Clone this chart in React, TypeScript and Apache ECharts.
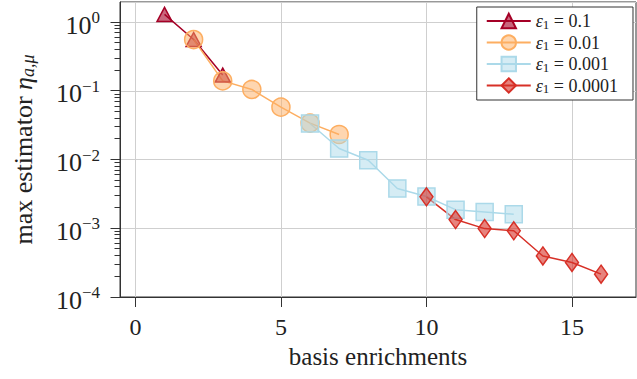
import React, { useEffect, useRef } from "react";
import * as echarts from "echarts";

const X_MIN = -0.53;
const X_MAX = 17.2;
const Y_MIN = 1e-4;
const Y_MAX = 1.97;

const xTicks = [0, 5, 10, 15];
const yMajorTicks = [1e-4, 1e-3, 1e-2, 1e-1, 1];
const minorMultipliers = [2, 3, 4, 5, 6, 7, 8, 9];
const minorDecades = [1e-4, 1e-3, 1e-2, 1e-1];

const eps1X = [1, 2, 3];
const eps1Y = [1.3, 0.56, 0.17];
const eps2X = [2, 3, 4, 5, 6, 7];
const eps2Y = [0.56, 0.14, 0.105, 0.058, 0.034, 0.0232];
const eps3X = [6, 7, 8, 9, 10, 11, 12, 13];
const eps3Y = [0.0335, 0.0145, 0.0098, 0.0038, 0.0029, 0.00187, 0.00173, 0.0016];
const eps4X = [10, 11, 12, 13, 14, 15, 16];
const eps4Y = [0.00287, 0.00134, 0.00099, 0.00092, 0.000396, 0.000318, 0.000215];

const seriesNames = ["0.1", "0.01", "0.001", "0.0001"];

const FONT = "'Liberation Serif', 'DejaVu Serif', serif";

function pairs(xs: number[], ys: number[]) {
  return xs.map((x, i) => [x, ys[i]]);
}

export default function App() {
  const ref = useRef<HTMLDivElement>(null);
  useEffect(() => {
    if (!ref.current) return;
    const chart = echarts.init(ref.current, undefined, { renderer: "svg" });

    const minorTicks: number[] = [];
    minorDecades.forEach((d) => minorMultipliers.forEach((k) => minorTicks.push(k * d)));

    // y-axis tick marks (major + log minor), drawn through the axis scales.
    // Named like the first legend entry so the legend filter keeps them visible.
    const yTickSeries = (values: number[], len: number) => ({
      type: "custom",
      name: seriesNames[0],
      clip: false,
      z: 10,
      data: values.map((v) => [X_MIN, v]),
      renderItem: (_p: any, api: any) => {
        const pt = api.coord([api.value(0), api.value(1)]);
        const y = Math.round(pt[1] - 0.5) + 0.5;
        const x = Math.round(pt[0]) + 0.5;
        return {
          type: "line",
          shape: { x1: x - len, y1: y, x2: x, y2: y },
          style: { stroke: "#333", lineWidth: 1 },
        };
      },
    });

    const mk = (
      name: string,
      data: number[][],
      color: string,
      fill: string,
      symbol: string,
      size: any
    ) => ({
      type: "line",
      name,
      data,
      symbol,
      symbolSize: size,
      lineStyle: { color, width: 1.5 },
      itemStyle: { color: fill, borderColor: color, borderWidth: 1.5 },
      emphasis: { disabled: true },
    });

    chart.setOption({
      animation: false,
      grid: {
        left: 120,
        right: 1,
        top: 2,
        bottom: 82,
        show: true,
        borderColor: "#333",
        borderWidth: 1,
      },
      legend: {
        data: seriesNames,
        orient: "vertical",
        right: 4,
        top: 7,
        itemWidth: 44,
        itemHeight: 18,
        itemGap: 3,
        padding: [5, 15, 5, 9],
        backgroundColor: "#fff",
        borderColor: "#333",
        borderWidth: 1,
        formatter: (name: string) => `{e|ε}{s|1}{t| = ${name}}`,
        textStyle: {
          fontFamily: FONT,
          fontSize: 18,
          color: "#222",
          rich: {
            e: { fontFamily: FONT, fontSize: 18, fontStyle: "italic", color: "#222" },
            s: { fontFamily: FONT, fontSize: 13, color: "#222", padding: [6, 0, 0, 0] },
            t: { fontFamily: FONT, fontSize: 18, color: "#222" },
          },
        },
      },
      xAxis: {
        type: "value",
        min: X_MIN,
        max: X_MAX,
        minInterval: 5,
        maxInterval: 5,
        name: "basis enrichments",
        nameLocation: "middle",
        nameGap: 46,
        nameTextStyle: { fontFamily: FONT, fontSize: 25, color: "#222" },
        axisLine: { onZero: false, lineStyle: { color: "#333", width: 1 } },
        axisTick: {
          show: true,
          inside: false,
          length: 10,
          customValues: xTicks,
          lineStyle: { color: "#333", width: 1 },
        },
        axisLabel: {
          fontFamily: FONT,
          fontSize: 24,
          color: "#222",
          margin: 18,
          customValues: xTicks,
        },
        splitLine: { show: true, lineStyle: { color: "#cfcfcf", width: 1 } },
      },
      yAxis: {
        type: "log",
        logBase: 10,
        min: Y_MIN,
        max: Y_MAX,
        position: "left",
        name: "max estimator {i|η}{s|a,μ}",
        nameLocation: "middle",
        nameGap: 83,
        nameTextStyle: {
          fontFamily: FONT,
          fontSize: 26,
          color: "#222",
          rich: {
            i: { fontFamily: FONT, fontSize: 26, fontStyle: "italic", color: "#222" },
            s: { fontFamily: FONT, fontSize: 18, fontStyle: "italic", color: "#222", padding: [10, 0, 0, 0] },
          },
        },
        axisLine: { show: true, onZero: false, lineStyle: { color: "#333", width: 1 } },
        axisTick: { show: false },
        axisLabel: {
          fontFamily: FONT,
          fontSize: 26,
          color: "#222",
          margin: 20,
          showMaxLabel: false,
          formatter: (v: number) => {
            const e = Math.round(Math.log10(v));
            const s = e < 0 ? "−" + Math.abs(e) : String(e);
            return `{b|10}{p|${s}}`;
          },
          rich: {
            b: { fontFamily: FONT, fontSize: 26, color: "#222", padding: [6, 0, 0, 0] },
            p: { fontFamily: FONT, fontSize: 17, color: "#222", padding: [0, 0, 9, 0] },
          },
        },
        splitLine: { show: true, lineStyle: { color: "#cfcfcf", width: 1 } },
      },
      series: [
        mk(seriesNames[0], pairs(eps1X, eps1Y), "#a50026", "rgba(165,0,38,0.6)", "triangle", [15, 14]),
        mk(seriesNames[1], pairs(eps2X, eps2Y), "#fdae61", "rgba(253,174,97,0.5)", "circle", 18),
        mk(seriesNames[2], pairs(eps3X, eps3Y), "#abd9e9", "rgba(171,217,233,0.5)", "rect", 17),
        mk(seriesNames[3], pairs(eps4X, eps4Y), "#d73027", "rgba(215,48,39,0.6)", "diamond", [13, 18]),
        yTickSeries(yMajorTicks, 10),
        yTickSeries(minorTicks, 6),
      ],
    });
    return () => chart.dispose();
  }, []);
  return <div ref={ref} style={{ width: 637, height: 379, position: "absolute", left: 0, top: 0 }} />;
}
